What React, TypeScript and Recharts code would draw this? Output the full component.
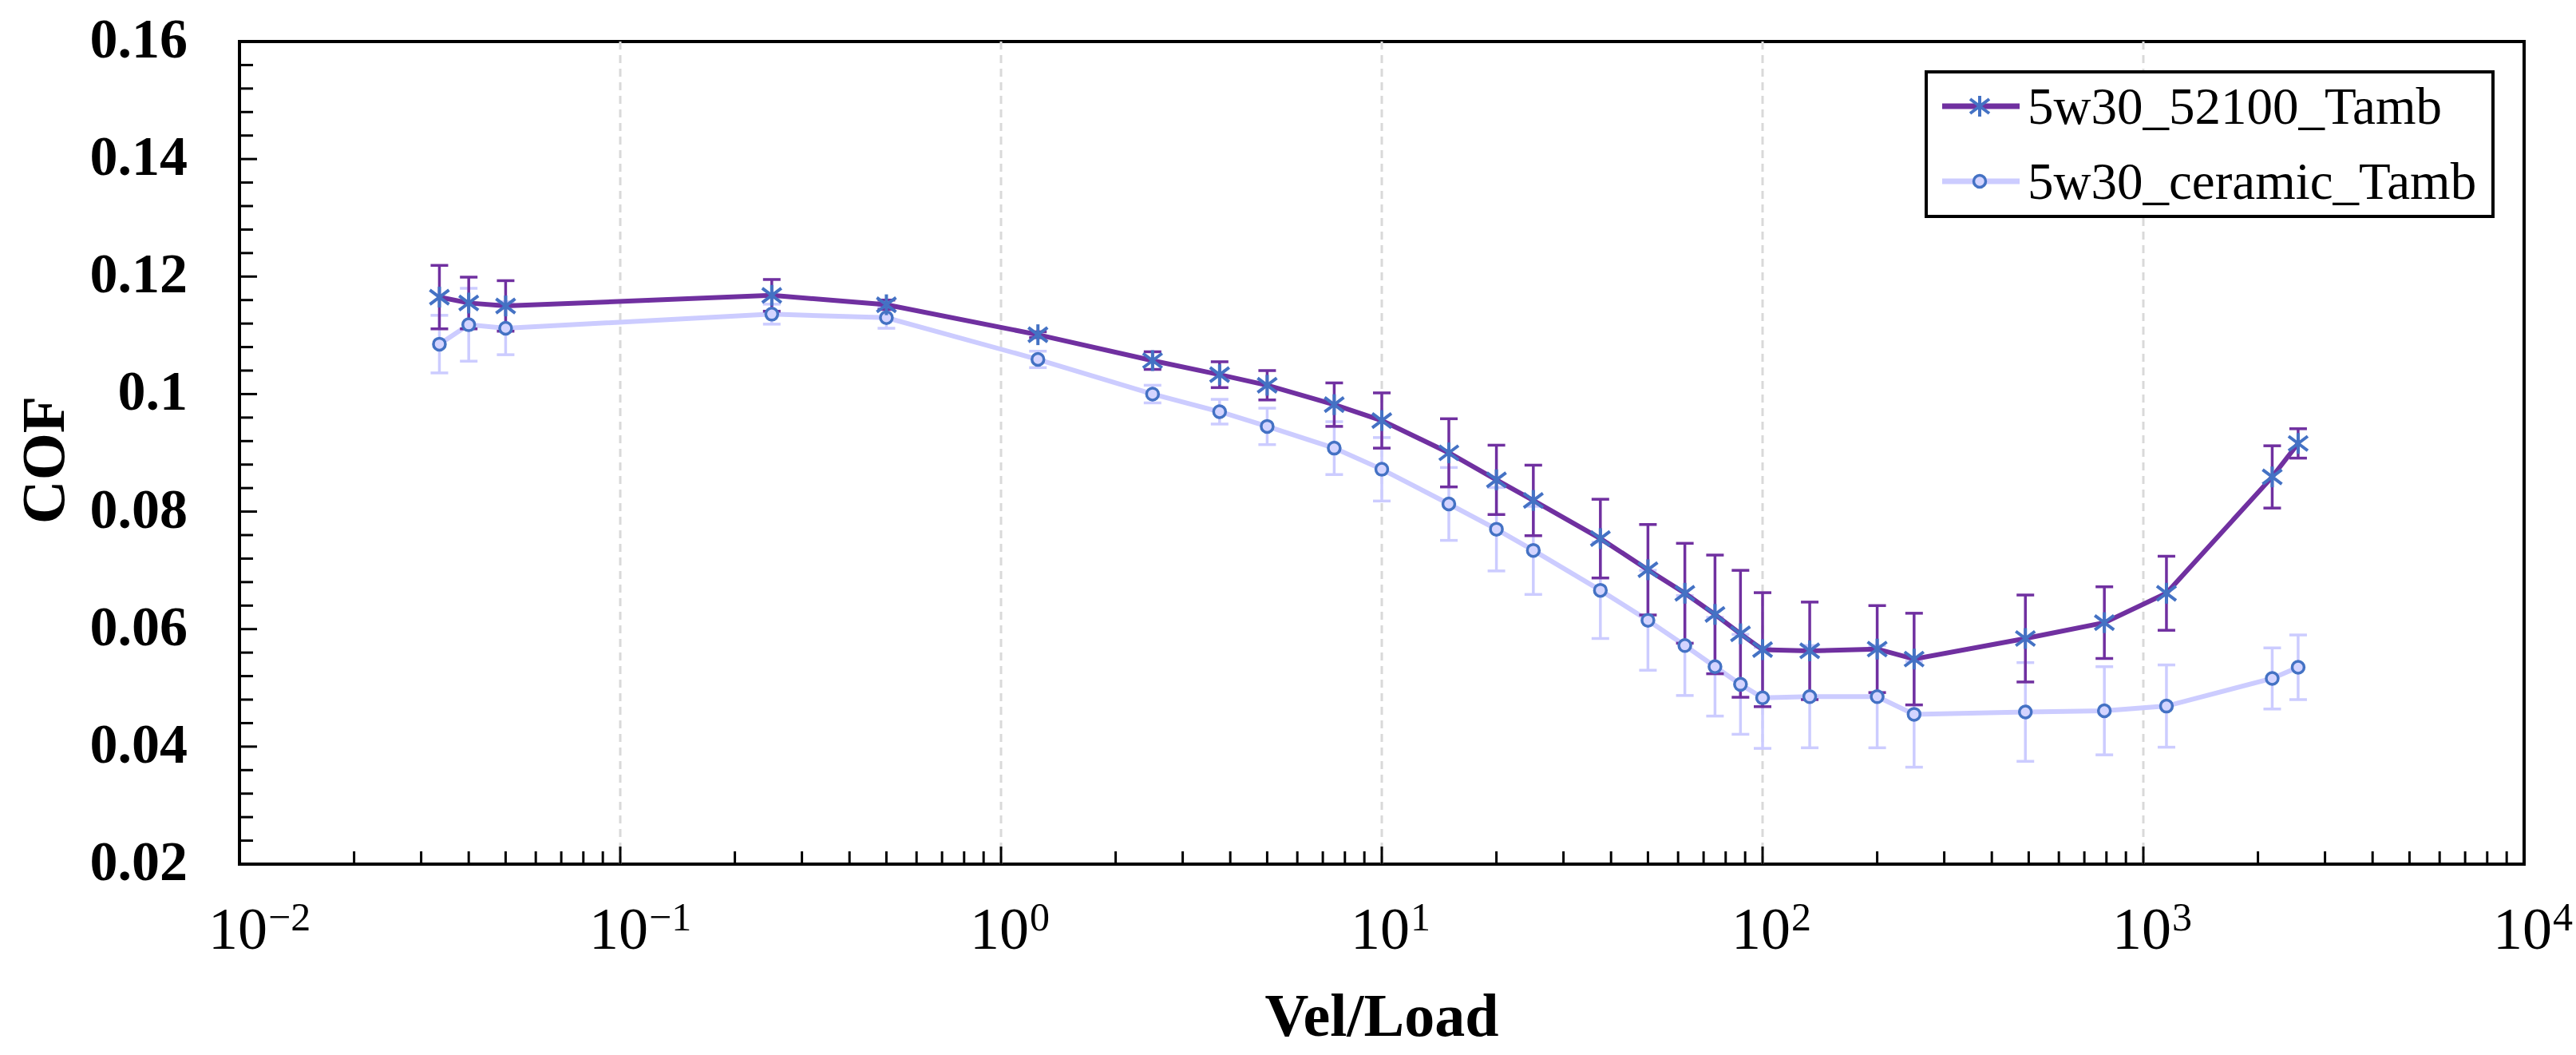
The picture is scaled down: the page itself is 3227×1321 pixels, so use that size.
import React from "react";
import { LineChart, Line, XAxis, YAxis, ErrorBar, ReferenceLine, ReferenceArea, Legend } from "recharts";

// x = Vel/Load, shared by both series
const VEL_LOAD = [
  0.0335, 0.04, 0.05, 0.25, 0.5, 1.25, 2.5, 3.75, 5, 7.5, 10, 15, 20, 25, 37.5, 50, 62.5, 75, 87.5, 100, 133, 200,
  250, 490, 790, 1150, 2180, 2550,
];

const COF_52100 = [
  0.1165, 0.1155, 0.115, 0.1168, 0.1152, 0.1101, 0.1057, 0.1033, 0.1015, 0.0982, 0.0955, 0.09, 0.0854, 0.0819,
  0.0754, 0.0701, 0.0661, 0.0625, 0.0592, 0.0565, 0.0563, 0.0566, 0.0549, 0.0584, 0.0611, 0.0661, 0.0859, 0.0916,
];
const ERR_52100 = [
  0.0054, 0.0044, 0.0043, 0.0027, 0.0008, 0.0005, 0.0015, 0.0022, 0.0025, 0.0037, 0.0047, 0.0058, 0.0059, 0.006,
  0.0067, 0.0077, 0.0085, 0.0101, 0.0108, 0.0097, 0.0083, 0.0074, 0.0078, 0.0074, 0.0061, 0.0063, 0.0053, 0.0025,
];

const COF_CERAMIC = [
  0.1085, 0.1118, 0.1112, 0.1136, 0.113, 0.1059, 0.1, 0.097, 0.0945, 0.0908, 0.0872, 0.0813, 0.077, 0.0734, 0.0666,
  0.0615, 0.0572, 0.0536, 0.0506, 0.0483, 0.0485, 0.0485, 0.0455, 0.0459, 0.0461, 0.0469, 0.0516, 0.0535,
];
const ERR_CERAMIC = [
  0.0049, 0.0062, 0.0045, 0.0017, 0.0018, 0.0014, 0.0015, 0.0021, 0.0031, 0.0045, 0.0054, 0.0062, 0.0071, 0.0075,
  0.0082, 0.0085, 0.0085, 0.0084, 0.0085, 0.0086, 0.0087, 0.0087, 0.009, 0.0084, 0.0075, 0.007, 0.0052, 0.0055,
];

const SERIES_NAMES = ["5w30_52100_Tamb", "5w30_ceramic_Tamb"];

const X_DECADES = [0.01, 0.1, 1, 10, 100, 1000, 10000];
const X_EXPONENTS = ["\u22122", "\u22121", "0", "1", "2", "3", "4"];
const Y_MAJOR = [0.02, 0.04, 0.06, 0.08, 0.1, 0.12, 0.14, 0.16];
const Y_LABELS = ["0.02", "0.04", "0.06", "0.08", "0.1", "0.12", "0.14", "0.16"];

const PURPLE = "#7030A0";
const LAVENDER = "#CCCCFF";
const MARKER_BLUE = "#4472C4";
const FONT = "'Liberation Serif', 'Times New Roman', serif";

const data = VEL_LOAD.map((x, i) => ({
  x,
  s52100: COF_52100[i],
  e52100: ERR_52100[i],
  ceramic: COF_CERAMIC[i],
  eCeramic: ERR_CERAMIC[i],
}));

// log axis: decades plus 2..9 minor marks
const xTicks = [
  ...X_DECADES,
  ...X_DECADES.slice(0, -1).flatMap((d) => [2, 3, 4, 5, 6, 7, 8, 9].map((m) => d * m)),
].sort((a, b) => a - b);

const yTicks = [
  ...Y_MAJOR,
  ...Y_MAJOR.slice(0, -1).flatMap((m) => [1, 2, 3, 4].map((k) => +(m + k * 0.004).toFixed(3))),
].sort((a, b) => a - b);

const XTick = (props: any) => {
  const { x, y, payload } = props;
  const v = payload.value;
  const idx = X_DECADES.findIndex((d) => Math.abs(d - v) / d < 1e-6);
  const major = idx >= 0;
  return (
    <g>
      <line x1={x} x2={x} y1={y} y2={y - (major ? 22 : 16)} stroke="#000" strokeWidth={3} />
      {major && (
        <g fontFamily={FONT} fill="#000">
          <text x={x - 2} y={y + 106} textAnchor="middle" fontSize={74}>
            10
          </text>
          <text x={x + 36} y={y + 83} textAnchor="start" fontSize={50}>
            {X_EXPONENTS[idx]}
          </text>
        </g>
      )}
    </g>
  );
};

const YTick = (props: any) => {
  const { x, y, payload } = props;
  const idx = Y_MAJOR.findIndex((m) => Math.abs(m - payload.value) < 1e-6);
  const major = idx >= 0;
  return (
    <g>
      <line x1={x} x2={x + (major ? 22 : 17)} y1={y} y2={y} stroke="#000" strokeWidth={3} />
      {major && (
        <text x={x - 65} y={y + 20} textAnchor="end" fontSize={70} fontWeight="bold" fontFamily={FONT} fill="#000">
          {Y_LABELS[idx]}
        </text>
      )}
    </g>
  );
};

const Star = ({ cx, cy }: { cx: number; cy: number }) => (
  <g stroke={MARKER_BLUE} strokeWidth={4} strokeLinecap="butt">
    <line x1={cx} y1={cy - 13} x2={cx} y2={cy + 13} />
    <line x1={cx - 12} y1={cy - 9} x2={cx + 12} y2={cy + 9} />
    <line x1={cx - 12} y1={cy + 9} x2={cx + 12} y2={cy - 9} />
  </g>
);

const Ring = ({ cx, cy }: { cx: number; cy: number }) => (
  <circle cx={cx} cy={cy} r={7.5} fill="#D4D4FF" stroke={MARKER_BLUE} strokeWidth={3.5} />
);

const renderStar = (p: any) => <Star key={`s-${p.index}`} cx={p.cx} cy={p.cy} />;
const renderRing = (p: any) => <Ring key={`r-${p.index}`} cx={p.cx} cy={p.cy} />;

const LegendBox = () => (
  <div
    style={{
      position: "relative",
      width: 714,
      height: 185,
      boxSizing: "border-box",
      border: "4px solid #000",
      background: "#fff",
      fontFamily: FONT,
      fontSize: 65,
      color: "#000",
    }}
  >
    {SERIES_NAMES.map((name, i) => (
      <div
        key={name}
        style={{ position: "absolute", left: 0, top: (i === 0 ? 41 : 135) - 47, height: 94, display: "flex", alignItems: "center" }}
      >
        <svg width={125} height={40} style={{ display: "block" }}>
          <line x1={18} x2={115} y1={20} y2={20} stroke={i === 0 ? PURPLE : LAVENDER} strokeWidth={7} />
          {i === 0 ? <Star cx={65} cy={20} /> : <Ring cx={65} cy={20} />}
        </svg>
        <span style={{ whiteSpace: "nowrap", lineHeight: 1 }}>{name}</span>
      </div>
    ))}
  </div>
);

export default function App() {
  return (
    <div style={{ position: "absolute", left: 0, top: 0, width: 3227, height: 1321, background: "#fff" }}>
      <LineChart width={3227} height={1321} data={data} margin={{ top: 52, right: 65, bottom: 0, left: 0 }}>
        {[0.1, 1, 10, 100, 1000].map((v) => (
          <ReferenceLine key={v} x={v} stroke="#d9d9d9" strokeWidth={3} strokeDasharray="10 7" />
        ))}
        <XAxis
          dataKey="x"
          type="number"
          scale="log"
          domain={[0.01, 10000]}
          ticks={xTicks}
          interval={0}
          allowDataOverflow
          height={239}
          tickSize={0}
          tickMargin={0}
          axisLine={false}
          tick={<XTick />}
          label={{
            value: "Vel/Load",
            position: "insideBottom",
            offset: 24,
            style: { fontFamily: FONT, fontSize: 76, fontWeight: "bold", fill: "#000" },
          }}
        />
        <YAxis
          type="number"
          domain={[0.02, 0.16]}
          ticks={yTicks}
          interval={0}
          allowDataOverflow
          width={300}
          tickSize={0}
          tickMargin={0}
          axisLine={false}
          tick={<YTick />}
          label={{
            content: () => (
              <text
                x={54}
                y={576}
                transform="rotate(-90 54 576)"
                textAnchor="middle"
                dominantBaseline="central"
                fontFamily={FONT}
                fontSize={76}
                fontWeight="bold"
                fill="#000"
              >
                COF
              </text>
            ),
          }}
        />
        <Line
          dataKey="ceramic"
          name={SERIES_NAMES[1]}
          stroke={LAVENDER}
          strokeWidth={6}
          dot={renderRing}
          activeDot={false}
          isAnimationActive={false}
        >
          <ErrorBar dataKey="eCeramic" direction="y" width={11} strokeWidth={3.5} stroke={LAVENDER} isAnimationActive={false} />
        </Line>
        <Line
          dataKey="s52100"
          name={SERIES_NAMES[0]}
          stroke={PURPLE}
          strokeWidth={6}
          dot={renderStar}
          activeDot={false}
          isAnimationActive={false}
        >
          <ErrorBar dataKey="e52100" direction="y" width={11} strokeWidth={3.5} stroke={PURPLE} isAnimationActive={false} />
        </Line>
        <ReferenceArea
          x1={0.01}
          x2={10000}
          y1={0.02}
          y2={0.16}
          fill="none"
          fillOpacity={0}
          stroke="#000"
          strokeWidth={4}
          ifOverflow="visible"
        />
        <Legend
          layout="horizontal"
          verticalAlign="middle"
          align="center"
          width={714}
          height={185}
          wrapperStyle={{ left: 2411, top: 88, width: 714, height: 185 }}
          content={() => <LegendBox />}
        />
      </LineChart>
    </div>
  );
}
